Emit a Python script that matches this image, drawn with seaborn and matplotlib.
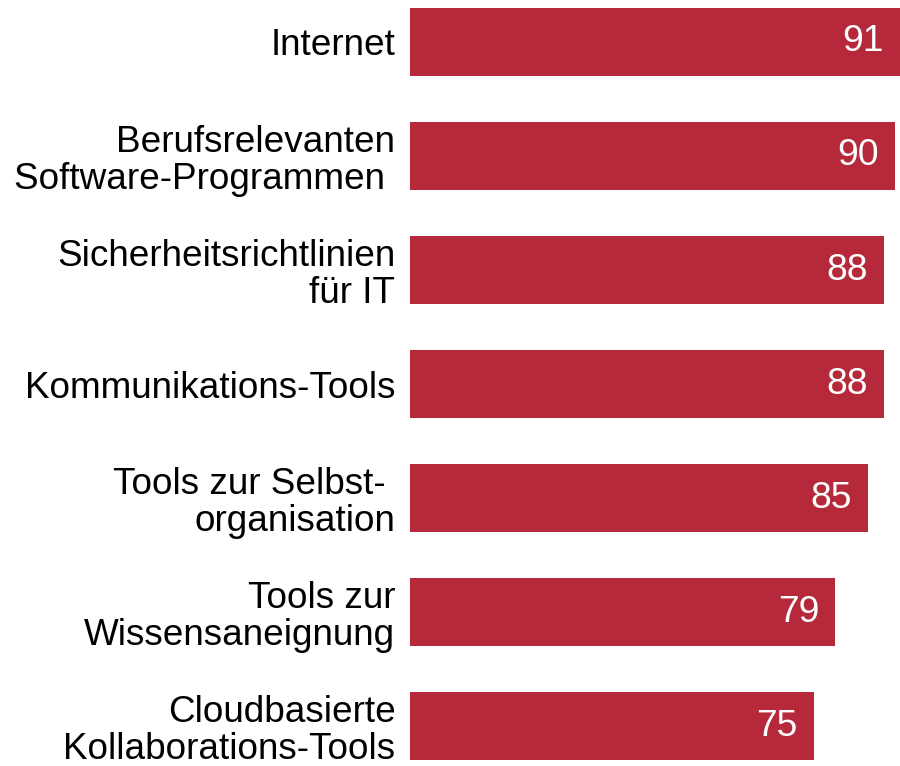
import matplotlib
matplotlib.use("Agg")
import matplotlib.pyplot as plt
import seaborn as sns
import pandas as pd

categories = [
    "Internet",
    "Berufsrelevanten\nSoftware-Programmen ",
    "Sicherheitsrichtlinien\nfür IT",
    "Kommunikations-Tools",
    "Tools zur Selbst- \norganisation",
    "Tools zur\nWissensaneignung",
    "Cloudbasierte\nKollaborations-Tools",
]
values = [91, 90, 88, 88, 85, 79, 75]

df = pd.DataFrame({"cat": categories, "val": values})

sns.set_theme(style="white")
plt.rcParams["font.family"] = ["Liberation Sans", "DejaVu Sans"]

fig = plt.figure(figsize=(9, 7.66), dpi=100)
ax = fig.add_axes([410 / 900, 0, 490 / 900, 1])

sns.barplot(data=df, x="val", y="cat", orient="h", color="#B5293A",
            saturation=1, width=0.6, ax=ax, edgecolor="none")

ax.set_xlim(0, 91)
ax.set_ylim(6.35, -0.368)
ax.set_xlabel("")
ax.set_ylabel("")
ax.set_xticks([])
for s in ax.spines.values():
    s.set_visible(False)
ax.tick_params(axis="y", length=0, pad=10.5, labelsize=26.6)
for lab in ax.get_yticklabels():
    lab.set_horizontalalignment("right")
    lab.set_linespacing(1.07)
    lab.set_color("black")

for i, v in enumerate(values):
    ax.annotate(str(v), xy=(v, i), xytext=(-11.5, 0), textcoords="offset points",
                ha="right", va="center", color="white", fontsize=26.8)

fig.savefig("out.png", dpi=100)
